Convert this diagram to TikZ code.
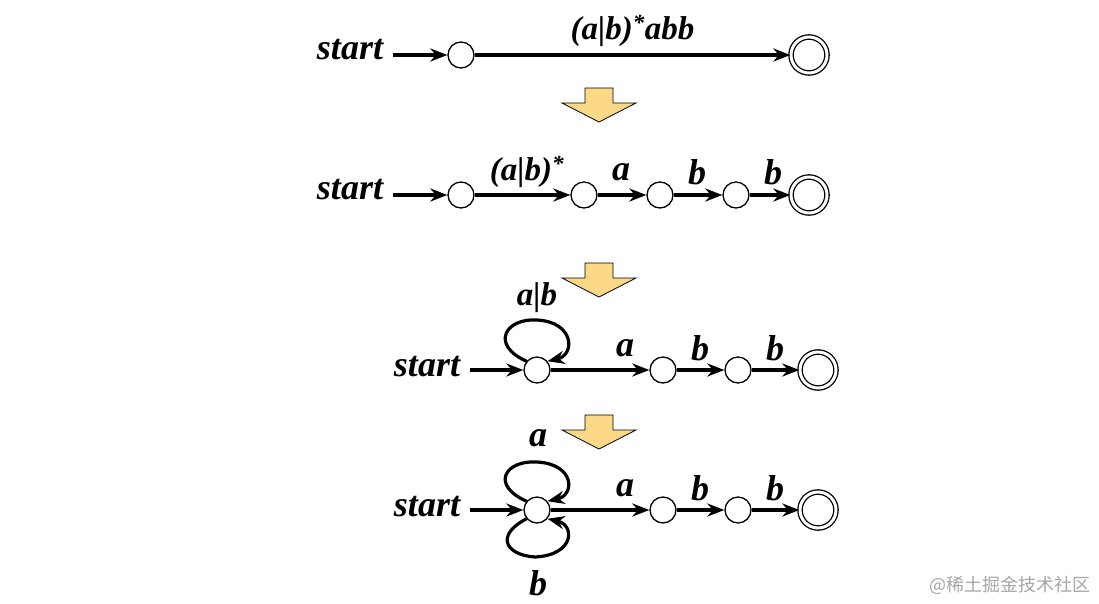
\documentclass[tikz,border=0pt]{standalone}
\usepackage{fontspec}
\setmainfont{Liberation Serif}
\newfontfamily\cjk{Noto Sans CJK SC}
\usetikzlibrary{arrows.meta}
\begin{document}
\begin{tikzpicture}[x=1pt,y=-1pt,
  st/.style={circle,draw,line width=1.3pt,minimum size=26pt,inner sep=0pt},
  fin/.style={circle,draw,line width=1.3pt,double,double distance=3pt,minimum size=36pt,inner sep=0pt},
  lab/.style={font=\fontsize{36}{36}\selectfont\bfseries\itshape},
  sm/.style={font=\fontsize{33}{33}\selectfont\bfseries\itshape},
  ar/.style={-{Stealth[length=17pt,width=13pt]},line width=3.2pt},
  bigar/.style={fill=yellow!40!orange!45,draw=black,thick}]
\useasboundingbox (0,0) rectangle (1099,603);
\newcommand{\downarr}[3]{\draw[bigar] (#1-14,#2) -- (#1+14,#2) -- (#1+14,#2+15) -- (#1+37,#2+15) -- (#1,#2+34) -- (#1-37,#2+15) -- (#1-14,#2+15) -- cycle; \node at (#1,#2) (#3) {};}
% row 1
\node[lab] (s1) at (350,50) {start};
\node[st] (a1) at (461,55) {};
\node[fin] (f1) at (809,55) {};
\coordinate (e1) at (393,55);
\draw[ar] (e1) -- (a1);
\draw[ar] (a1) -- node[above=3pt,sm] {(\textit{a}|\textit{b})\textsuperscript{*}\textit{abb}} (f1);
\downarr{599}{88}{d1}
% row 2
\node[lab] (s2) at (350,190) {start};
\node[st] (a2) at (461,195) {};
\node[st] (b2) at (584,195) {};
\node[st] (c2) at (660,195) {};
\node[st] (d2) at (736,195) {};
\node[fin] (f2) at (809,195) {};
\coordinate (e2) at (393,195);
\draw[ar] (e2) -- (a2);
\draw[ar] (a2) -- (b2); \draw[ar] (b2) -- (c2); \draw[ar] (c2) -- (d2); \draw[ar] (d2) -- (f2);
\node[sm] at (527,172) {(\textit{a}|\textit{b})\textsuperscript{*}};
\node[lab] at (621,172) {a};
\node[lab] at (697,172) {b};
\node[lab] at (773,172) {b};
\downarr{599}{263}{d2}
% row 3
\node[lab] (s3) at (427,367) {start};
\node[st] (a3) at (537,370) {};
\node[st] (c3) at (663,370) {};
\node[st] (d3) at (738,370) {};
\node[fin] (f3) at (818,370) {};
\coordinate (e3) at (470,370);
\draw[ar] (e3) -- (a3);
\draw[ar] (a3) -- (c3); \draw[ar] (c3) -- (d3); \draw[ar] (d3) -- (f3);
\draw[ar] (a3.140) .. controls (490,345) and (505,318) .. (537,320) .. controls (575,322) and (575,355) .. (a3.40);
\node[sm] at (537,298) {\textit{a}|\textit{b}};
\node[lab] at (625,348) {a};
\node[lab] at (700,348) {b};
\node[lab] at (775,348) {b};
\downarr{599}{415}{d3}
% row 4
\node[lab] (s4) at (427,507) {start};
\node[st] (a4) at (537,510) {};
\node[st] (c4) at (663,510) {};
\node[st] (d4) at (738,510) {};
\node[fin] (f4) at (818,510) {};
\coordinate (e4) at (470,510);
\draw[ar] (e4) -- (a4);
\draw[ar] (a4) -- (c4); \draw[ar] (c4) -- (d4); \draw[ar] (d4) -- (f4);
\draw[ar] (a4.140) .. controls (490,485) and (505,460) .. (537,462) .. controls (575,464) and (575,495) .. (a4.40);
\draw[ar] (a4.220) .. controls (495,535) and (505,555) .. (535,557) .. controls (575,555) and (575,525) .. (a4.-40);
\node[lab] at (538,438) {a};
\node[lab] at (538,583) {b};
\node[lab] at (625,488) {a};
\node[lab] at (700,488) {b};
\node[lab] at (775,488) {b};
\node[text=gray!70,font=\cjk\fontsize{18}{18}\selectfont] at (1010,585) {@稀土掘金技术社区};
\end{tikzpicture}
\end{document}
